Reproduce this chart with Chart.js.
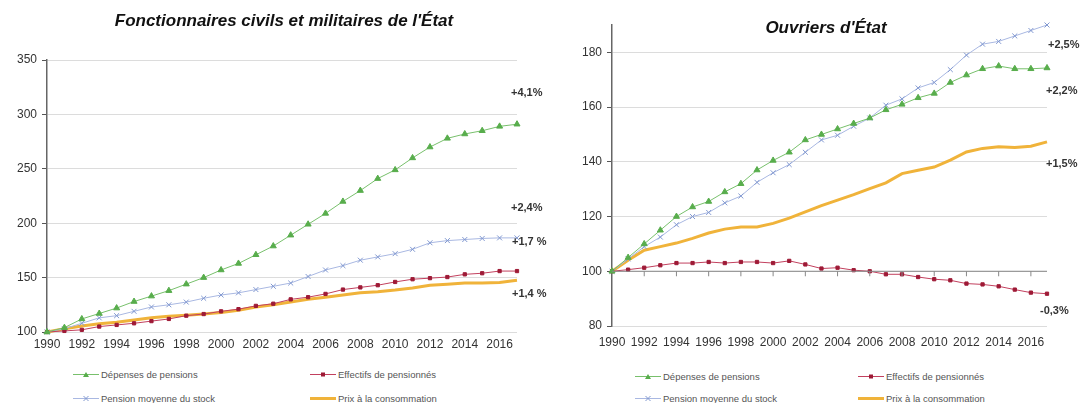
<!DOCTYPE html>
<html>
<head>
<meta charset="utf-8">
<script src="https://cdn.jsdelivr.net/npm/chart.js@4/dist/chart.umd.min.js"></script>
<style>
  body { margin: 0; background: #fff; font-family: 'Liberation Sans', Arial, sans-serif; }
  #page { position: relative; width: 1083px; height: 403px; overflow: hidden; }
  canvas { position: absolute; }
  .title { position: absolute; font-weight: bold; font-style: italic; font-size: 17px; color: #111; white-space: nowrap; transform: translate(-50%, -50%); }
  .pct { position: absolute; font-weight: bold; font-size: 11px; color: #333; white-space: nowrap; transform: translateY(-50%); }
  .leg { position: absolute; font-size: 9.5px; color: #555; white-space: nowrap; display: flex; align-items: center; transform: translateY(-50%); }
  .leg svg { margin-right: 2px; }
</style>
</head>
<body>
<div id="page">
  <canvas id="left" width="540" height="362" style="left:0;top:0"></canvas>
  <canvas id="right" width="523" height="360" style="left:560px;top:0"></canvas>
  <div class="title" style="left:284px;top:21px">Fonctionnaires civils et militaires de l'État</div>
  <div class="title" style="left:826px;top:28px">Ouvriers d'État</div>

  <div class="pct" style="left:511px;top:92px">+4,1%</div>
  <div class="pct" style="left:511px;top:207px">+2,4%</div>
  <div class="pct" style="left:512px;top:241px">+1,7 %</div>
  <div class="pct" style="left:512px;top:293px">+1,4 %</div>
  <div class="pct" style="left:1048px;top:44px">+2,5%</div>
  <div class="pct" style="left:1046px;top:90px">+2,2%</div>
  <div class="pct" style="left:1046px;top:163px">+1,5%</div>
  <div class="pct" style="left:1040px;top:310px">-0,3%</div>
</div>
<script>
// annees
const years = ['1990','1991','1992','1993','1994','1995','1996','1997','1998','1999','2000','2001','2002','2003','2004','2005','2006','2007','2008','2009','2010','2011','2012','2013','2014','2015','2016','2017'];

// Fonctionnaires civils et militaires (base 100 en 1990)
const fcDepenses = [100,104,112,117,122,128,133,138,144,150,157,163,171,179,189,199,209,220,230,241,249,260,270,278,282,285,289,291];
const fcEffectifs = [100,101,102,105,106.5,108,110,112,115,116.5,119,121,124,126,130,132,135,139,141,143,146,148.5,149.5,150.5,153,154,156,156];
const fcPension = [100,103,108,113,115,119,123,125,127.5,131,134,136,139,142,145,151,157,161,166,169,172,176,182,184,185,186,186.5,186.5];
const fcPrix = [100,103,105.5,107.5,109,111,113,114.5,115.5,116.5,118,120,123,125,127.5,130,132,134,136,137,138.5,140.5,143,144,145,145,145.5,147.5];

// Ouvriers d'Etat
const oeDepenses = [100,105,110,115,120,123.5,125.5,129,132,137,140.5,143.5,148,150,152,154,156,159,161,163.4,165,169,171.7,174,175,174,174,174.3];
const oeEffectifs = [100,100.6,101.3,102.2,103,103,103.4,103,103.4,103.4,103,103.8,102.5,101,101.3,100.4,100,98.9,98.9,97.9,97.1,96.7,95.5,95.2,94.5,93.3,92.2,91.8];
const oePension = [100,104.5,109,112.5,117,120,121.5,125,127.5,132.5,136,139,143.5,148,149.7,153,156,160.7,163,167,169,173.7,179,183,184,186,188,190];
const oePrix = [100,104,107.7,109,110.3,112,114,115.4,116.2,116.2,117.5,119.4,121.7,124,126,128,130.2,132.3,135.7,136.9,138.1,140.6,143.6,144.9,145.5,145.2,145.7,147.3];

const seriesNames = ['Dépenses de pensions', 'Effectifs de pensionnés', 'Pension moyenne du stock', 'Prix à la consommation'];

const GREEN = '#58ad4c', GREEN_LINE = '#78c06c';
const RED = '#9e1a36', RED_LINE = '#c2405e';
const BLUE = '#8198d0', BLUE_LINE = '#a9b8e2';
const ORANGE = '#f0b33a';
const tickFont = { family: "'Liberation Sans Narrow', 'Liberation Sans', Arial, sans-serif", size: 12 };

function makeDatasets(dep, eff, pen, prix) {
  return [
    { label: seriesNames[0], data: dep, borderColor: GREEN_LINE, backgroundColor: GREEN, pointBorderColor: GREEN,
      borderWidth: 1, pointStyle: 'triangle', pointRadius: 3.5, order: 1 },
    { label: seriesNames[1], data: eff, borderColor: RED_LINE, backgroundColor: RED, pointBorderColor: RED,
      borderWidth: 1, pointStyle: 'rect', pointRadius: 2.3, order: 2 },
    { label: seriesNames[2], data: pen, borderColor: BLUE_LINE, backgroundColor: BLUE, pointBorderColor: BLUE,
      borderWidth: 1, pointStyle: 'crossRot', pointRadius: 3.5, pointBorderWidth: 1, order: 3 },
    { label: seriesNames[3], data: prix, borderColor: ORANGE, borderWidth: 3, pointRadius: 0, order: 10 }
  ];
}

// axe horizontal a 100 avec petites graduations (graphique de droite)
const baseAxis = {
  id: 'baseAxis',
  afterDatasetsDraw(chart, args, opts) {
    if (!opts.enabled) return;
    const ctx = chart.ctx, x = chart.scales.x, y = chart.scales.y;
    const py = y.getPixelForValue(100);
    ctx.save();
    ctx.strokeStyle = '#888';
    ctx.lineWidth = 1;
    ctx.beginPath();
    ctx.moveTo(chart.chartArea.left, py);
    ctx.lineTo(chart.chartArea.right, py);
    for (let i = 2; i < years.length; i += 2) {
      const px = x.getPixelForValue(i);
      ctx.moveTo(px, py);
      ctx.lineTo(px, py + 5);
    }
    ctx.stroke();
    ctx.restore();
  }
};

function makeChart(id, datasets, yMin, yMax, step, yWidth, pad, xHeight, xPad, drawBase) {
  return new Chart(document.getElementById(id), {
    type: 'line',
    data: { labels: years, datasets: datasets },
    plugins: [baseAxis],
    options: {
      responsive: false,
      animation: false,
      layout: { padding: pad },
      elements: { line: { tension: 0 } },
      datasets: { line: { clip: false } },
      plugins: {
        legend: { display: false },
        tooltip: { enabled: false },
        baseAxis: { enabled: drawBase }
      },
      scales: {
        x: {
          offset: false,
          grid: { display: false, drawTicks: false },
          border: { display: false },
          ticks: {
            autoSkip: false, maxRotation: 0, padding: xPad, color: '#333', font: tickFont,
            callback: (v, i) => (i % 2 === 0 ? years[i] : '')
          },
          afterFit: s => { s.height = xHeight; }
        },
        y: {
          min: yMin, max: yMax,
          ticks: { stepSize: step, color: '#333', font: tickFont, padding: 5 },
          afterBuildTicks: s => { s.ticks = s.ticks.filter(t => t.value % step === 0); },
          grid: { color: '#dcdcdc', tickColor: '#555', tickLength: 5 },
          border: { color: '#666', width: 1.5 },
          afterFit: s => { s.width = yWidth; }
        }
      }
    }
  });
}

makeChart('left', makeDatasets(fcDepenses, fcEffectifs, fcPension, fcPrix),
  100, 350, 50, 47, { top: 60, right: 23, left: 0, bottom: 0 }, 30, 5, false);
makeChart('right', makeDatasets(oeDepenses, oeEffectifs, oePension, oePrix),
  80, 190, 20, 52, { top: 25, right: 36, left: 0, bottom: 0 }, 34, 9, true);

// legendes
function legIcon(i) {
  const line = [GREEN_LINE, RED_LINE, BLUE_LINE, ORANGE][i];
  const mk = [GREEN, RED, BLUE][i];
  let marker = '';
  if (i === 0) marker = `<polygon points="13,2.5 16,7.5 10,7.5" fill="${mk}"/>`;
  if (i === 1) marker = `<rect x="11" y="3" width="4" height="4" fill="${mk}"/>`;
  if (i === 2) marker = `<path d="M10.5 2.5 L15.5 7.5 M15.5 2.5 L10.5 7.5" stroke="${mk}" stroke-width="1"/>`;
  return `<svg width="26" height="10"><line x1="0" y1="5" x2="26" y2="5" stroke="${line}" stroke-width="${i === 3 ? 3 : 1}"/>${marker}</svg>`;
}
const page = document.getElementById('page');
const legPos = [
  [[73, 374], [310, 374], [73, 398], [310, 398]],
  [[635, 376], [858, 376], [635, 398], [858, 398]]
];
legPos.forEach(panel => {
  panel.forEach((p, i) => {
    const d = document.createElement('div');
    d.className = 'leg';
    d.style.left = p[0] + 'px';
    d.style.top = p[1] + 'px';
    d.innerHTML = legIcon(i) + '<span>' + seriesNames[i] + '</span>';
    page.appendChild(d);
  });
});
</script>
</body>
</html>
